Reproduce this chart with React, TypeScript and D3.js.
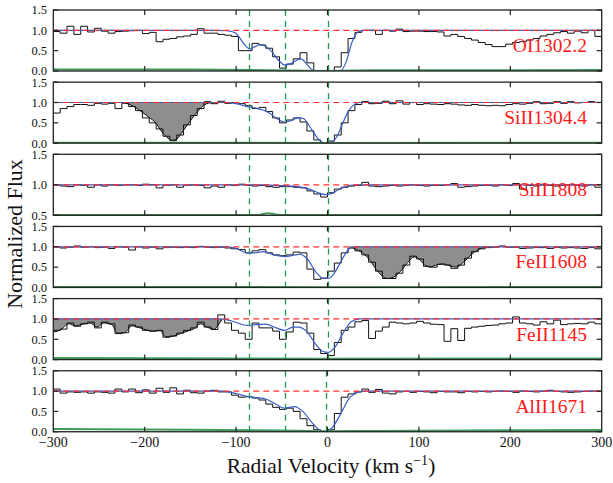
import React from "react";
import * as d3 from "d3";

// ---------------- DATA ----------------
const transitions = ["OI1302.2", "SiII1304.4", "SiII1808", "FeII1608", "FeII1145", "AlII1671"];
const yDomains: [number, number][] = [[0, 1.5], [0, 1.5], [0.5, 1.5], [0, 1.5], [0, 1.5], [0, 1.5]];
const yTickValues = [[0, 0.5, 1, 1.5], [0, 0.5, 1, 1.5], [0.5, 1, 1.5], [0, 0.5, 1, 1.5], [0, 0.5, 1, 1.5], [0, 0.5, 1, 1.5]];
const xTickValues = [-300, -200, -100, 0, 100, 200, 300];
const componentLines = [
  [-86, -46, 0], [-86, -46, 0], [-86, -46, 0], [-86, -46, 0], [-86, -46, 0], [-86, -46, -2],
];
// left edges of the 7.5 km/s spectral bins
const binLeftEdges = d3.range(-300, 300, 7.5);

const fluxOI = [
  0.97, 0.93, 1.1, 0.9, 1.1, 0.96, 1.05, 0.98, 0.93, 0.97, 0.98, 0.99, 1.0, 0.92, 0.95, 0.72, 0.78, 0.8, 0.84, 0.86,
  0.9, 1.04, 0.93, 0.93, 0.9, 0.88, 0.85, 0.5, 0.5, 0.68, 0.64, 0.56, 0.35, 0.07, 0.17, 0.3, 0.45, 0.2, 0.0, 0.0,
  0.0, 0.1, 0.45, 0.8, 0.95, 1.0, 1.0, 0.9, 1.0, 0.98, 1.03, 0.97, 0.98, 0.98, 0.97, 0.97, 0.96, 0.86, 0.9, 0.85,
  0.8, 0.76, 0.7, 0.65, 0.6, 0.6, 0.66, 0.7, 0.72, 0.76, 0.8, 0.86, 0.9, 0.94, 0.97, 0.93, 0.98, 0.94, 1.0, 0.85,
];
const fluxSiII1304 = [
  0.74, 0.85, 0.9, 0.95, 0.95, 0.93, 0.98, 0.96, 0.98, 0.85, 0.98, 0.9, 0.8, 0.62, 0.5, 0.35, 0.17, 0.06, 0.2, 0.45,
  0.68, 0.85, 1.02, 0.97, 1.03, 0.98, 1.0, 0.97, 0.92, 0.85, 0.88, 0.78, 0.62, 0.5, 0.57, 0.62, 0.52, 0.3, 0.08, 0.0,
  0.05, 0.2, 0.5, 0.8, 0.95, 1.02, 0.97, 0.98, 1.03, 0.97, 1.04, 0.96, 1.0, 0.95, 0.97, 0.96, 0.95, 0.97, 0.96, 0.94,
  0.93, 0.95, 0.93, 0.92, 0.93, 0.92, 0.95, 0.97, 0.96, 0.98, 1.02, 0.97, 0.98, 1.02, 0.98, 1.02, 0.99, 1.0, 1.02, 1.0,
];
const fluxSiII1808 = [
  1.0, 0.98, 0.97, 1.0, 0.99, 0.96, 1.0, 0.98, 1.0, 0.99, 1.0, 1.0, 0.99, 1.01, 1.0, 0.95, 0.99, 1.0, 0.96, 0.99,
  1.0, 0.99, 0.95, 0.98, 0.96, 1.0, 0.99, 1.01, 0.99, 0.98, 0.99, 0.97, 0.96, 0.97, 0.97, 0.96, 0.95, 0.9, 0.85, 0.8,
  0.87, 0.93, 0.96, 0.98, 0.99, 1.04, 0.98, 0.97, 0.98, 0.99, 0.98, 0.99, 1.0, 0.99, 0.98, 0.99, 0.99, 1.0, 1.02, 0.96,
  0.97, 0.98, 0.99, 0.99, 0.98, 1.0, 0.99, 1.02, 0.93, 0.99, 0.98, 1.0, 0.99, 0.98, 0.99, 1.0, 0.99, 0.98, 1.0, 0.96,
];
const fluxFeII1608 = [
  1.0, 0.97, 0.99, 1.02, 0.99, 1.0, 0.98, 0.99, 0.96, 1.0, 0.99, 0.92, 1.0, 0.97, 0.99, 0.95, 0.98, 0.99, 0.98, 0.99,
  0.98, 1.01, 0.99, 0.98, 0.99, 0.97, 0.95, 0.93, 0.85, 0.9, 0.93, 0.85, 0.8, 0.78, 0.8, 0.87, 0.85, 0.45, 0.2, 0.23,
  0.4, 0.6, 0.85, 0.97, 0.9, 0.8, 0.62, 0.4, 0.22, 0.22, 0.35, 0.55, 0.77, 0.7, 0.52, 0.5, 0.57, 0.55, 0.47, 0.55,
  0.72, 0.88, 0.95, 0.98, 0.99, 1.02, 0.99, 0.99, 0.96, 0.97, 0.98, 0.98, 0.96, 0.98, 0.97, 0.98, 0.97, 0.96, 0.98, 0.95,
];
const fluxFeII1145 = [
  0.72, 0.75, 0.9, 0.82, 0.88, 0.92, 0.78, 0.92, 0.88, 0.64, 0.66, 0.85, 0.8, 0.72, 0.7, 0.72, 0.55, 0.58, 0.65, 0.72,
  0.78, 0.92, 0.8, 0.74, 1.1, 0.9, 0.72, 0.65, 0.5, 0.9, 0.78, 0.78, 0.7, 0.5, 0.68, 0.92, 0.9, 0.65, 0.25, 0.15,
  0.1, 0.42, 0.72, 0.8, 0.93, 0.96, 0.52, 0.7, 0.8, 0.92, 0.9, 0.88, 0.9, 0.94, 0.9, 0.87, 0.86, 0.45, 0.76, 0.47,
  0.77, 0.8, 0.82, 0.84, 0.85, 0.88, 0.9, 1.05, 0.9, 0.88, 0.85, 0.93, 0.88, 0.97, 0.86, 0.88, 0.89, 0.88, 0.92, 0.88,
];
const fluxAlII1671 = [
  1.05, 0.95, 0.98, 0.97, 0.98, 0.95, 0.98, 0.97, 0.95, 1.05, 0.98, 1.05, 0.96, 1.03, 0.95, 1.07, 0.97, 1.08, 0.93, 1.02,
  0.96, 0.95, 1.0, 1.02, 0.98, 0.98, 0.9, 0.85, 0.86, 0.83, 0.78, 0.68, 0.6, 0.55, 0.58, 0.5, 0.32, 0.15, 0.05, 0.0,
  0.05, 0.45, 0.85, 0.93, 0.98, 1.05, 0.97, 1.04, 0.95, 0.93, 0.98, 0.99, 0.97, 0.99, 0.98, 0.96, 0.99, 0.98, 0.98, 0.96,
  0.99, 0.98, 0.99, 0.98, 0.99, 1.0, 0.99, 0.97, 1.0, 0.99, 0.98, 1.0, 1.02, 0.99, 0.98, 0.97, 0.98, 0.99, 1.0, 0.99,
];

// Voigt-profile models: [velocity, normalized flux]
const modelOI: [number, number][] = [
  [-300, 1], [-120, 1], [-110, 0.99], [-101, 0.94], [-90, 0.63], [-85, 0.54], [-80, 0.59], [-74, 0.65], [-68, 0.61],
  [-62, 0.5], [-53, 0.25], [-47, 0.15], [-42, 0.17], [-33, 0.27], [-29, 0.3], [-22, 0.15], [-17, 0.03], [-12, 0],
  [14, 0], [20, 0.2], [27, 0.72], [33, 0.95], [40, 1], [300, 1],
];
const modelSiII1304: [number, number][] = [
  [-300, 1], [-110, 1], [-100, 0.97], [-88, 0.9], [-78, 0.86], [-65, 0.76], [-55, 0.6], [-48, 0.52], [-40, 0.55],
  [-32, 0.63], [-26, 0.6], [-18, 0.36], [-10, 0.1], [-4, 0.01], [4, 0.02], [10, 0.15], [16, 0.45], [22, 0.75],
  [28, 0.93], [35, 1], [300, 1],
];
const modelSiII1808: [number, number][] = [
  [-300, 1], [-70, 1], [-50, 0.985], [-35, 0.975], [-20, 0.93], [-10, 0.87], [-3, 0.84], [5, 0.86], [12, 0.92],
  [20, 0.97], [30, 1], [300, 1],
];
const modelFeII1608: [number, number][] = [
  [-300, 1], [-110, 1], [-100, 0.96], [-88, 0.85], [-80, 0.85], [-70, 0.88], [-58, 0.8], [-46, 0.76], [-38, 0.79],
  [-30, 0.82], [-22, 0.7], [-12, 0.36], [-4, 0.22], [2, 0.23], [8, 0.37], [15, 0.65], [21, 0.88], [27, 0.99],
  [32, 1], [300, 1],
];
const modelFeII1145: [number, number][] = [
  [-300, 1], [-118, 1], [-105, 0.95], [-88, 0.84], [-78, 0.86], [-68, 0.87], [-56, 0.78], [-47, 0.72], [-38, 0.8],
  [-32, 0.8], [-23, 0.7], [-12, 0.35], [-5, 0.2], [1, 0.18], [8, 0.3], [17, 0.65], [26, 0.93], [35, 1], [300, 1],
];
const modelAlII1671: [number, number][] = [
  [-300, 1], [-115, 1], [-100, 0.94], [-88, 0.87], [-78, 0.84], [-67, 0.8], [-56, 0.67], [-47, 0.58], [-36, 0.62],
  [-27, 0.5], [-16, 0.2], [-7, 0.02], [-2, 0], [5, 0.1], [17, 0.55], [23, 0.8], [34, 0.97], [42, 1], [300, 1],
];

// blended (unrelated) absorption, shaded grey: [velocity, flux]
const blendSiII1304: [number, number][] = [
  [-222, 1.0], [-212, 0.9], [-202, 0.75], [-195, 0.63], [-188, 0.5], [-182, 0.3], [-176, 0.15], [-170, 0.07],
  [-165, 0.1], [-158, 0.3], [-150, 0.55], [-142, 0.78], [-134, 0.95], [-126, 1.0],
];
const blendFeII1608: [number, number][] = [
  [25, 1], [32, 0.93], [40, 0.82], [47, 0.65], [53, 0.45], [59, 0.3], [65, 0.22], [72, 0.25], [80, 0.4], [88, 0.62],
  [95, 0.75], [100, 0.7], [106, 0.56], [112, 0.5], [120, 0.56], [127, 0.58], [134, 0.53], [141, 0.5], [149, 0.62],
  [157, 0.8], [165, 0.93], [175, 1.0],
];
const blendFeII1145: [number, number][] = [
  [-300, 0.68], [-292, 0.73], [-283, 0.88], [-276, 0.83], [-268, 0.87], [-260, 0.9], [-252, 0.8], [-245, 0.9],
  [-236, 0.86], [-230, 0.65], [-222, 0.66], [-214, 0.83], [-205, 0.78], [-197, 0.72], [-190, 0.7], [-183, 0.71],
  [-177, 0.56], [-170, 0.57], [-161, 0.64], [-153, 0.7], [-146, 0.76], [-139, 0.88], [-131, 0.79], [-124, 0.75],
  [-118, 0.9], [-115, 1.0],
];

// flux uncertainty: [velocity, sigma]
const errorOI: [number, number][] = [[-300, 0.04], [-150, 0.035], [-60, 0.02], [0, 0.003], [50, 0.02], [300, 0.022]];
const errorSiII1304: [number, number][] = [[-300, 0.012], [0, 0.006], [300, 0.01]];
const errorSiII1808: [number, number][] = [[-300, 0.505], [-80, 0.505], [-72, 0.515], [-65, 0.535], [-57, 0.515], [-48, 0.505], [300, 0.505]];
const errorFeII1608: [number, number][] = [[-300, 0.01], [0, 0.008], [300, 0.01]];
const errorFeII1145: [number, number][] = [[-300, 0.04], [-100, 0.03], [0, 0.02], [300, 0.03]];
const errorAlII1671: [number, number][] = [[-300, 0.065], [-150, 0.05], [-50, 0.03], [0, 0.012], [50, 0.02], [300, 0.045]];

const fluxes = [fluxOI, fluxSiII1304, fluxSiII1808, fluxFeII1608, fluxFeII1145, fluxAlII1671];
const models = [modelOI, modelSiII1304, modelSiII1808, modelFeII1608, modelFeII1145, modelAlII1671];
const errors = [errorOI, errorSiII1304, errorSiII1808, errorFeII1608, errorFeII1145, errorAlII1671];
const blends: ([number, number][] | null)[] = [null, blendSiII1304, null, blendFeII1608, blendFeII1145, null];

// ---------------- LAYOUT ----------------
const W = 613;
const H = 483;
const X0 = 53.3;
const X1 = 601.7;
const PANEL_TOP = 10;
const PANEL_STEP = 72.15;
const PANEL_H = 61;
const FONT = "'Liberation Serif', 'DejaVu Serif', serif";

function fmt(v: number) {
  const s = Math.abs(v).toString();
  return v < 0 ? "\u2212" + s : s;
}

export default function App() {
  const x = d3.scaleLinear().domain([-300, 300]).range([X0, X1]);
  const crisp = (px: number) => Math.round(px) + 0.5;

  const panels = transitions.map((name, i) => {
    const top = PANEL_TOP + i * PANEL_STEP;
    const bottom = top + PANEL_H;
    const y = d3.scaleLinear().domain(yDomains[i]).range([bottom, top]);
    const flux = fluxes[i];
    const stepPts: [number, number][] = binLeftEdges.map((v, k) => [v, flux[k]] as [number, number]);
    stepPts.push([300, flux[flux.length - 1]]);
    const step = d3.line<[number, number]>().x((d) => x(d[0])).y((d) => y(d[1])).curve(d3.curveStepAfter)(stepPts) || "";
    const smooth = d3.line<[number, number]>().x((d) => x(d[0])).y((d) => y(d[1])).curve(d3.curveMonotoneX);
    const modelPath = smooth(models[i]) || "";
    const errPath = smooth(errors[i]) || "";
    const blend = blends[i];
    const blendArea = blend
      ? d3.area<[number, number]>().x((d) => x(d[0])).y0(y(1)).y1((d) => y(d[1])).curve(d3.curveMonotoneX)(blend) || ""
      : "";
    const blendLine = blend ? smooth(blend) || "" : "";
    const clipId = `clip-${i}`;
    const innerXTicks = xTickValues.slice(1, -1);

    return (
      <g key={name}>
        <defs>
          <clipPath id={clipId}>
            <rect x={X0} y={top} width={X1 - X0} height={PANEL_H} />
          </clipPath>
        </defs>
        <g clipPath={`url(#${clipId})`}>
          {blend && <path d={blendArea} fill="#8e8e8e" stroke="none" />}
          {blend && <path d={blendLine} fill="none" stroke="#111" strokeWidth={1} />}
          <path d={step} fill="none" stroke="#111" strokeWidth={1} />
          <path d={modelPath} fill="none" stroke="#3a5bc7" strokeWidth={1.2} />
          <line x1={X0} x2={X1} y1={y(1)} y2={y(1)} stroke="#ff3030" strokeWidth={1.2} strokeDasharray="6,4" />
          <path d={errPath} fill="none" stroke="#3f9a5c" strokeWidth={2} />
          {componentLines[i].map((v) => (
            <line key={v} x1={crisp(x(v))} x2={crisp(x(v))} y1={top} y2={bottom} stroke="#1f9a55" strokeWidth={1.3} strokeDasharray="6,5" />
          ))}
        </g>
        <rect x={X0} y={top} width={X1 - X0} height={PANEL_H} fill="none" stroke="#222" strokeWidth={1.3} />
        {innerXTicks.map((v) => (
          <g key={"xt" + v}>
            <line x1={x(v)} x2={x(v)} y1={top} y2={top + 5} stroke="#222" strokeWidth={1.2} />
            <line x1={x(v)} x2={x(v)} y1={bottom} y2={bottom - 5} stroke="#222" strokeWidth={1.2} />
          </g>
        ))}
        {yTickValues[i].map((t) => (
          <g key={"yt" + t}>
            <line x1={X0} x2={X0 + 5} y1={y(t)} y2={y(t)} stroke="#222" strokeWidth={1.2} />
            <line x1={X1} x2={X1 - 5} y1={y(t)} y2={y(t)} stroke="#222" strokeWidth={1.2} />
            <text x={47} y={y(t)} dy="0.35em" textAnchor="end" fontSize={12.5} fontFamily={FONT} fill="#111">
              {t.toFixed(1)}
            </text>
          </g>
        ))}
        <text x={587} y={top + 42} textAnchor="end" fontSize={19.5} fontFamily={FONT} fill="#ff1a1a">
          {name}
        </text>
      </g>
    );
  });

  const lastBottom = PANEL_TOP + 5 * PANEL_STEP + PANEL_H;

  return (
    <svg width={W} height={H} style={{ position: "absolute", left: 0, top: 0, background: "#fff" }}>
      <rect width={W} height={H} fill="#fff" />
      {panels}
      {xTickValues.map((v) => (
        <text key={"xl" + v} x={x(v)} y={lastBottom + 15.5} textAnchor="middle" fontSize={14} fontFamily={FONT} fill="#111">
          {fmt(v)}
        </text>
      ))}
      <text x={331} y={473} textAnchor="middle" fontSize={21.5} fontFamily={FONT} fill="#111">
        Radial Velocity (km s
        <tspan dy={-8} fontSize={14}>{"\u22121"}</tspan>
        <tspan dy={8}>)</tspan>
      </text>
      <text
        x={22}
        y={234}
        transform="rotate(-90, 22, 234)"
        textAnchor="middle"
        fontSize={22}
        fontFamily={FONT}
        fill="#111"
      >
        Normalized Flux
      </text>
    </svg>
  );
}
